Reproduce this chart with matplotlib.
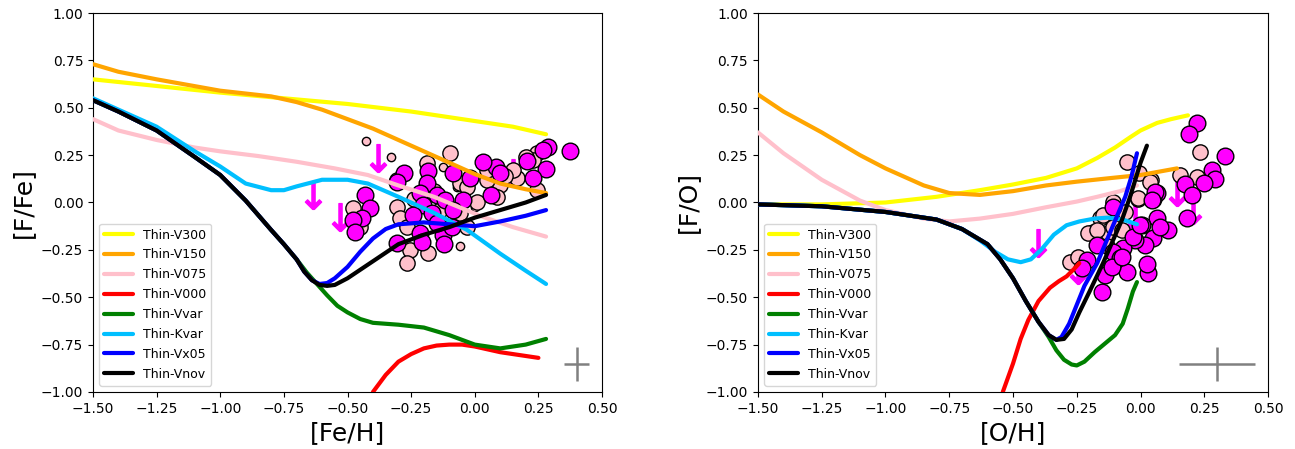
import matplotlib
matplotlib.use("Agg")
import matplotlib.pyplot as plt

# ---------------- Left panel: [F/Fe] vs [Fe/H] ----------------
L_labels = ["Thin-V300", "Thin-V150", "Thin-V075", "Thin-V000",
            "Thin-Vvar", "Thin-Kvar", "Thin-Vx05", "Thin-Vnov"]
colors = ["yellow", "orange", "pink", "red", "green", "deepskyblue", "blue", "black"]

L_v300_x = [-1.5, -1.25, -1.0, -0.75, -0.5, -0.25, 0.0, 0.15, 0.28]
L_v300_y = [0.65, 0.615, 0.58, 0.55, 0.52, 0.48, 0.43, 0.40, 0.36]
L_v150_x = [-1.5, -1.4, -1.25, -1.0, -0.8, -0.7, -0.6, -0.5, -0.4, -0.3, -0.2, -0.1, 0.0, 0.1, 0.2, 0.28]
L_v150_y = [0.73, 0.69, 0.65, 0.59, 0.56, 0.53, 0.49, 0.44, 0.39, 0.33, 0.27, 0.21, 0.15, 0.10, 0.07, 0.05]
L_v075_x = [-1.5, -1.4, -1.25, -1.1, -1.0, -0.85, -0.7, -0.55, -0.42, -0.3, -0.16, 0.03, 0.15, 0.28]
L_v075_y = [0.44, 0.38, 0.33, 0.29, 0.27, 0.245, 0.215, 0.18, 0.145, 0.09, 0.03, -0.075, -0.13, -0.18]
L_v000_x = [-0.40, -0.35, -0.3, -0.25, -0.2, -0.15, -0.1, -0.05, 0.0, 0.1, 0.2, 0.25]
L_v000_y = [-1.0, -0.91, -0.84, -0.80, -0.77, -0.755, -0.75, -0.75, -0.76, -0.79, -0.81, -0.82]
L_vvar_x = [-1.5, -1.4, -1.25, -1.1, -1.0, -0.9, -0.8, -0.75, -0.7, -0.66, -0.62, -0.58, -0.54, -0.5, -0.45,
            -0.4, -0.3, -0.2, -0.1, 0.0, 0.1, 0.2, 0.28]
L_vvar_y = [0.54, 0.48, 0.38, 0.24, 0.145, 0.01, -0.145, -0.22, -0.30, -0.37, -0.43, -0.49, -0.545, -0.58, -0.615,
            -0.635, -0.645, -0.66, -0.70, -0.75, -0.77, -0.75, -0.72]
L_kvar_x = [-1.5, -1.4, -1.25, -1.1, -1.0, -0.9, -0.8, -0.75, -0.7, -0.6, -0.5, -0.42, -0.3, -0.16,
            -0.03, 0.1, 0.2, 0.28]
L_kvar_y = [0.55, 0.49, 0.40, 0.27, 0.19, 0.10, 0.065, 0.065, 0.085, 0.12, 0.12, 0.10, 0.03, -0.055,
            -0.145, -0.27, -0.36, -0.43]
L_vx05_x = [-1.5, -1.4, -1.25, -1.1, -1.0, -0.9, -0.8, -0.75, -0.7, -0.67, -0.64, -0.61, -0.58, -0.55, -0.5,
            -0.45, -0.4, -0.35, -0.3, -0.2, -0.1, 0.0, 0.1, 0.2, 0.28]
L_vx05_y = [0.54, 0.48, 0.38, 0.24, 0.145, 0.01, -0.145, -0.22, -0.30, -0.365, -0.41, -0.43, -0.425, -0.40, -0.34,
            -0.26, -0.19, -0.14, -0.115, -0.105, -0.115, -0.125, -0.10, -0.07, -0.04]
L_vnov_x = [-1.5, -1.4, -1.25, -1.1, -1.0, -0.9, -0.8, -0.75, -0.7, -0.67, -0.64, -0.61, -0.58, -0.55, -0.5, -0.4,
            -0.3, -0.2, -0.1, 0.0, 0.1, 0.2, 0.28]
L_vnov_y = [0.54, 0.48, 0.38, 0.24, 0.145, 0.01, -0.145, -0.22, -0.30, -0.365, -0.41, -0.435, -0.44, -0.435, -0.40, -0.31,
            -0.22, -0.17, -0.13, -0.08, -0.04, 0.0, 0.04]

L_mag_x = [0.374, 0.288, 0.268, 0.205, 0.280, 0.229, 0.083, 0.032, 0.099, -0.019, 0.064, -0.085, -0.184,
           -0.188, -0.278, -0.305, -0.431, -0.412, -0.443, -0.478, -0.470, -0.215, -0.148, -0.117, -0.046,
           -0.085, -0.203, -0.243, -0.168, -0.215, -0.305, -0.207, -0.125, -0.121, -0.089, -0.148]
L_mag_y = [0.272, 0.293, 0.277, 0.219, 0.177, 0.129, 0.187, 0.214, 0.156, 0.129, 0.040, 0.156, 0.166,
           0.103, 0.156, 0.108, 0.040, -0.029, -0.082, -0.092, -0.156, 0.050, 0.040, 0.013, 0.013,
           -0.040, -0.013, -0.066, -0.055, -0.161, -0.214, -0.208, -0.171, -0.219, -0.129, -0.108]
L_pink_x = [-0.097, -0.188, -0.058, 0.099, 0.166, 0.245, 0.245, 0.048, 0.087, -0.030, -0.478, -0.451,
            -0.305, -0.294, -0.266, -0.254, -0.266, -0.184, -0.305, -0.215, -0.136, -0.030, -0.109,
            -0.058, 0.048, 0.150, 0.229, 0.200, 0.120, -0.160, -0.240, 0.010]
L_pink_y = [0.261, 0.208, 0.103, 0.092, 0.129, 0.261, 0.066, 0.119, 0.029, 0.082, -0.029, -0.129,
            -0.024, -0.082, -0.129, -0.251, -0.319, -0.266, 0.119, 0.024, -0.040, -0.129, -0.129,
            -0.055, 0.171, 0.171, 0.224, 0.240, 0.140, 0.060, 0.020, 0.000]
L_small_x = [-0.427, -0.329, -0.125, -0.070, 0.001, -0.058, -0.040, -0.200]
L_small_y = [0.325, 0.240, 0.187, 0.082, -0.024, -0.230, 0.120, -0.010]
L_arrow_x = [-0.636, -0.530, -0.380, 0.150, 0.070]
L_arrow_y = [0.040, -0.075, 0.235, 0.155, 0.090]
L_err = (0.40, -0.85, 0.05, 0.09)

# ---------------- Right panel: [F/O] vs [O/H] ----------------
R_v300_x = [-1.5, -1.25, -1.0, -0.8, -0.63, -0.5, -0.37, -0.25, -0.17, -0.1, -0.04, 0.0, 0.065, 0.12, 0.186]
R_v300_y = [-0.01, -0.01, 0.0, 0.03, 0.065, 0.095, 0.13, 0.18, 0.235, 0.29, 0.345, 0.38, 0.42, 0.44, 0.46]
R_v150_x = [-1.5, -1.4, -1.25, -1.1, -1.0, -0.85, -0.75, -0.63, -0.5, -0.37, -0.25, -0.11, 0.0, 0.143]
R_v150_y = [0.57, 0.48, 0.37, 0.25, 0.18, 0.09, 0.05, 0.04, 0.06, 0.09, 0.11, 0.13, 0.145, 0.18]
R_v075_x = [-1.5, -1.4, -1.25, -1.1, -1.0, -0.85, -0.75, -0.63, -0.5, -0.37, -0.25, -0.17, -0.08, -0.014]
R_v075_y = [0.37, 0.26, 0.12, 0.01, -0.04, -0.085, -0.10, -0.085, -0.06, -0.025, 0.005, 0.03, 0.06, 0.09]
R_v000_x = [-0.54, -0.5, -0.47, -0.44, -0.4, -0.355, -0.32, -0.29, -0.26, -0.24]
R_v000_y = [-1.0, -0.85, -0.72, -0.62, -0.52, -0.45, -0.415, -0.39, -0.35, -0.32]
R_vvar_x = [-1.5, -1.25, -1.0, -0.8, -0.7, -0.6, -0.55, -0.5, -0.45, -0.4, -0.36, -0.33, -0.3, -0.27,
            -0.25, -0.22, -0.18, -0.14, -0.1, -0.07, -0.05, -0.03, -0.014]
R_vvar_y = [-0.01, -0.02, -0.05, -0.09, -0.14, -0.22, -0.30, -0.40, -0.52, -0.63, -0.71, -0.78, -0.83, -0.855,
            -0.86, -0.84, -0.79, -0.745, -0.70, -0.64, -0.56, -0.47, -0.42]
R_kvar_x = [-1.5, -1.25, -1.0, -0.8, -0.7, -0.63, -0.57, -0.52, -0.47, -0.43, -0.39, -0.34, -0.29,
            -0.24, -0.18, -0.13, -0.07, -0.014]
R_kvar_y = [-0.01, -0.02, -0.05, -0.09, -0.14, -0.20, -0.26, -0.30, -0.315, -0.30, -0.25, -0.17, -0.12,
            -0.10, -0.085, -0.08, -0.09, -0.115]
R_vx05_x = [-1.5, -1.25, -1.0, -0.8, -0.7, -0.6, -0.55, -0.5, -0.45, -0.4, -0.36, -0.33, -0.31, -0.28,
            -0.25, -0.22, -0.17, -0.12, -0.06, -0.035, -0.014]
R_vx05_y = [-0.01, -0.02, -0.05, -0.09, -0.14, -0.22, -0.30, -0.40, -0.52, -0.63, -0.70, -0.725, -0.71, -0.64,
            -0.54, -0.44, -0.32, -0.16, 0.03, 0.14, 0.26]
R_vnov_x = [-1.5, -1.25, -1.0, -0.8, -0.7, -0.6, -0.55, -0.5, -0.45, -0.4, -0.36, -0.33, -0.3, -0.27,
            -0.24, -0.2, -0.147, -0.073, -0.041, 0.0, 0.025]
R_vnov_y = [-0.01, -0.02, -0.05, -0.09, -0.14, -0.22, -0.30, -0.40, -0.52, -0.63, -0.70, -0.725, -0.72, -0.67,
            -0.58, -0.47, -0.32, -0.092, 0.03, 0.21, 0.30]

R_mag_x = [0.222, 0.190, 0.331, 0.280, 0.292, 0.249, 0.175, 0.202, 0.182, 0.065, 0.049, 0.065, 0.108,
           0.006, 0.049, 0.018, -0.022, -0.069, -0.108, -0.108, -0.080, -0.171, -0.139, -0.053, 0.029,
           0.025, -0.210, -0.229, -0.151, -0.029, 0.076, 0.057, 0.045, -0.112, -0.073, -0.002]
R_mag_y = [0.420, 0.360, 0.245, 0.171, 0.124, 0.103, 0.098, 0.040, -0.082, 0.050, 0.018, -0.082, -0.145,
           -0.119, -0.187, -0.224, -0.198, -0.240, -0.024, -0.261, -0.293, -0.224, -0.383, -0.367, -0.372,
           -0.325, -0.303, -0.346, -0.472, -0.182, -0.130, 0.055, 0.013, -0.340, -0.288, -0.119]
R_pink_x = [0.233, -0.053, -0.006, 0.041, -0.010, -0.108, 0.155, 0.222, -0.190, -0.159, -0.276, -0.127,
            -0.010, 0.037, -0.147, -0.186, -0.108, -0.073, -0.245, -0.206, -0.171, -0.060, -0.130]
R_pink_y = [0.266, 0.214, 0.156, 0.119, 0.018, 0.003, 0.145, 0.135, -0.161, -0.082, -0.314, -0.161,
            0.024, 0.108, -0.066, -0.156, -0.129, -0.145, -0.287, -0.161, -0.145, -0.050, -0.230]
R_arrow_x = [-0.402, 0.143, 0.206, -0.245, -0.020]
R_arrow_y = [-0.215, 0.055, -0.040, -0.355, -0.080]
R_err = (0.30, -0.85, 0.15, 0.09)

x_ticks = [-1.5, -1.25, -1.0, -0.75, -0.5, -0.25, 0.0, 0.25, 0.5]
y_ticks = [-1.0, -0.75, -0.5, -0.25, 0.0, 0.25, 0.5, 0.75, 1.0]

fig = plt.figure(figsize=(12.95, 4.49), dpi=100)
ax1 = fig.add_axes([0.0718, 0.127, 0.3931, 0.844])
ax2 = fig.add_axes([0.5853, 0.127, 0.3939, 0.844])

def draw(ax, curves, mag, pink, small, arrows, err, xlabel, ylabel):
    ax.plot(arrows[0], arrows[1], linestyle="none", marker=r"$\downarrow$",
            color="magenta", markersize=20, zorder=2)
    if small is not None:
        ax.plot(small[0], small[1], "o", color="pink", mec="black", mew=1.0,
                markersize=6, zorder=3)
    ax.plot(pink[0], pink[1], "o", color="pink", mec="black", mew=1.0,
            markersize=11, zorder=3)
    ax.plot(mag[0], mag[1], "o", color="magenta", mec="black", mew=1.0,
            markersize=12, zorder=4)
    for (cx, cy), lab, col in zip(curves, L_labels, colors):
        ax.plot(cx, cy, color=col, lw=3, label=lab, zorder=5,
                solid_joinstyle="round", solid_capstyle="round")
    ax.errorbar([err[0]], [err[1]], xerr=[err[2]], yerr=[err[3]], fmt="none",
                ecolor="gray", elinewidth=1.8, capsize=0, zorder=6)
    ax.set_xlim(-1.5, 0.5)
    ax.set_ylim(-1.0, 1.0)
    ax.set_xticks(x_ticks)
    ax.set_yticks(y_ticks)
    ax.set_xticklabels([f"{v:.2f}".replace("-", "\u2212") for v in x_ticks])
    ax.set_yticklabels([f"{v:.2f}".replace("-", "\u2212") for v in y_ticks])
    ax.tick_params(labelsize=10)
    ax.set_xlabel(xlabel, fontsize=18)
    ax.set_ylabel(ylabel, fontsize=18)
    ax.legend(loc="lower left", fontsize=9, handlelength=2.3, labelspacing=0.55)

draw(ax1,
     [(L_v300_x, L_v300_y), (L_v150_x, L_v150_y), (L_v075_x, L_v075_y), (L_v000_x, L_v000_y),
      (L_vvar_x, L_vvar_y), (L_kvar_x, L_kvar_y), (L_vx05_x, L_vx05_y), (L_vnov_x, L_vnov_y)],
     (L_mag_x, L_mag_y), (L_pink_x, L_pink_y), (L_small_x, L_small_y),
     (L_arrow_x, L_arrow_y), L_err, "[Fe/H]", "[F/Fe]")
draw(ax2,
     [(R_v300_x, R_v300_y), (R_v150_x, R_v150_y), (R_v075_x, R_v075_y), (R_v000_x, R_v000_y),
      (R_vvar_x, R_vvar_y), (R_kvar_x, R_kvar_y), (R_vx05_x, R_vx05_y), (R_vnov_x, R_vnov_y)],
     (R_mag_x, R_mag_y), (R_pink_x, R_pink_y), None,
     (R_arrow_x, R_arrow_y), R_err, "[O/H]", "[F/O]")

fig.savefig("out.png", dpi=100)
